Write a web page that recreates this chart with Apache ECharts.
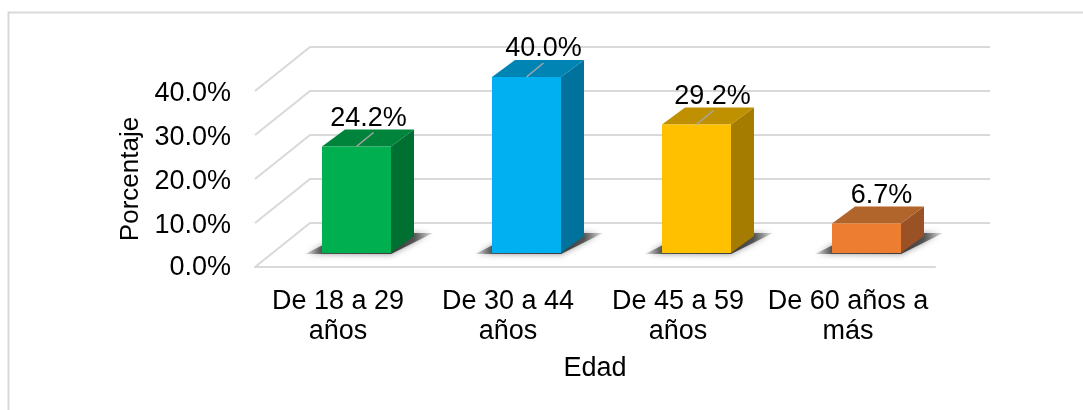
<!DOCTYPE html>
<html>
<head>
<meta charset="utf-8">
<script src="https://cdn.jsdelivr.net/npm/echarts@6/dist/echarts.min.js"></script>
<style>
  html, body { margin: 0; padding: 0; background: #fff; }
  #chart { width: 1083px; height: 410px; }
</style>
</head>
<body>
<div id="chart"></div>
<script>
var categories = ['De 18 a 29\naños', 'De 30 a 44\naños', 'De 45 a 59\naños', 'De 60 años a\nmás'];
var percentages = [24.2, 40.0, 29.2, 6.7];
var yTicks = [0, 10, 20, 30, 40];

var frontColors = ['#00B050', '#00B0F0', '#FFC000', '#ED7D31'];
var topColors = ['#00843C', '#0084B4', '#BF9000', '#B2652B'];
var sideColors = ['#006F32', '#00729C', '#A67C00', '#9A5126'];

var FONT = '"Liberation Sans", Arial, sans-serif';
var FONT_SIZE = 27;
var TEXT = '#000';
var GRID_LINE = '#d9d9d9';

// the 3d look: wall sits behind the floor front edge, bars stand part way in
var wallDx = 55, wallDy = -44;
var barDx = 16.5, barDy = -14;
var depthDx = 23, depthDy = -17;
var barW = 69;
var labelDx = [12, 17, 16, 15];

function drawWall(params, api) {
  var p = api.coord([0, api.value(1)]);
  var left = params.coordSys.x;
  var right = left + params.coordSys.width;
  return {
    type: 'polyline',
    shape: { points: [[left, p[1]], [left + wallDx, p[1] + wallDy], [right + wallDx, p[1] + wallDy]] },
    style: { stroke: GRID_LINE, lineWidth: 2, fill: null }
  };
}

function drawBar(params, api) {
  var i = params.dataIndex;
  var value = api.value(1);
  var base = api.coord([i, 0]);
  var head = api.coord([i, value]);
  var x0 = base[0] + barDx - barW / 2;
  var x1 = x0 + barW;
  var y0 = base[1] + barDy;
  var y1 = head[1] + barDy;
  var midX = (x0 + x1) / 2;
  var kids = [
    {
      // floor shadow, dark next to the bar and fading outwards
      type: 'polygon',
      shape: { points: [[x0 - 17, y0 + 1], [x1, y0 + 1], [x1 + 42, y0 - 20], [x0 + 25, y0 - 20]] },
      style: {
        fill: new echarts.graphic.LinearGradient(0, 0, 1, 0, [
          { offset: 0, color: 'rgba(60,60,60,0.1)' },
          { offset: 0.14, color: 'rgba(60,60,60,0.85)' },
          { offset: 0.68, color: 'rgba(60,60,60,1)' },
          { offset: 0.85, color: 'rgba(60,60,60,0.8)' },
          { offset: 1, color: 'rgba(60,60,60,0.1)' }
        ]),
        shadowBlur: 6,
        shadowColor: 'rgba(60,60,60,0.6)'
      }
    },
    {
      type: 'polygon',
      shape: { points: [[x1, y1], [x1 + depthDx, y1 + depthDy], [x1 + depthDx, y0 + depthDy], [x1, y0]] },
      style: { fill: sideColors[i] }
    },
    {
      type: 'polygon',
      shape: { points: [[x0, y1], [x0 + depthDx, y1 + depthDy], [x1 + depthDx, y1 + depthDy], [x1, y1]] },
      style: { fill: topColors[i] }
    },
    {
      type: 'rect',
      shape: { x: x0, y: y1, width: barW, height: y0 - y1 },
      style: { fill: frontColors[i] }
    }
  ];
  // small bar keeps its label right above, the others get a leader line
  if (value > 10) {
    kids.push({
      type: 'line',
      shape: { x1: midX, y1: y1, x2: midX + 17, y2: y1 + depthDy + 3 },
      style: { stroke: '#a6a6a6', lineWidth: 1.5 }
    });
  }
  kids.push({
    type: 'text',
    style: {
      text: value.toFixed(1) + '%',
      x: midX + labelDx[i],
      y: y1 - 28,
      align: 'center',
      verticalAlign: 'middle',
      fill: TEXT,
      font: FONT_SIZE + 'px ' + FONT
    }
  });
  return { type: 'group', children: kids };
}

var chart = echarts.init(document.getElementById('chart'));
chart.setOption({
  animation: false,
  backgroundColor: '#fff',
  textStyle: { fontFamily: FONT },
  graphic: [{
    // frame of the pasted picture: only top and left edges are visible
    type: 'polyline',
    z: 0,
    shape: { points: [[8.5, 410], [8.5, 12.5], [1083, 12.5]] },
    style: { fill: null, stroke: GRID_LINE, lineWidth: 2 }
  }],
  grid: { left: 255, top: 91, width: 680, height: 176, containLabel: false },
  xAxis: {
    type: 'category',
    data: categories,
    name: 'Edad',
    nameLocation: 'middle',
    nameGap: 88,
    nameTextStyle: { fontSize: FONT_SIZE, color: TEXT, fontFamily: FONT },
    axisLine: { show: true, lineStyle: { color: GRID_LINE, width: 2 } },
    axisTick: { show: false },
    axisLabel: { fontSize: FONT_SIZE, color: TEXT, fontFamily: FONT, margin: 20, lineHeight: 30, interval: 0, padding: [0, 4, 0, 0] }
  },
  yAxis: {
    type: 'value',
    min: 0,
    max: 40,
    interval: 10,
    name: 'Porcentaje',
    nameLocation: 'middle',
    nameGap: 106,
    nameTextStyle: { fontSize: 26, color: TEXT, fontFamily: FONT },
    axisLine: { show: false },
    axisTick: { show: false },
    splitLine: { show: false },
    axisLabel: {
      margin: 24,
      // top padding on the rich token pushes the text down a little, 0.0% sits higher
      rich: {
        v: { fontSize: FONT_SIZE, color: TEXT, fontFamily: FONT, padding: [5, 0, 0, 0] },
        z: { fontSize: FONT_SIZE, color: TEXT, fontFamily: FONT, padding: [1, 0, 0, 0] }
      },
      formatter: function (v) { return '{' + (v === 0 ? 'z' : 'v') + '|' + v.toFixed(1) + '%}'; }
    }
  },
  series: [
    {
      type: 'custom',
      name: 'wall',
      clip: false,
      z: 1,
      silent: true,
      renderItem: drawWall,
      encode: { x: 0, y: 1 },
      data: yTicks.map(function (t) { return [0, t]; })
    },
    {
      type: 'custom',
      name: 'Porcentaje',
      clip: false,
      z: 2,
      renderItem: drawBar,
      encode: { x: 0, y: 1 },
      data: percentages.map(function (v, i) { return [i, v]; })
    }
  ]
});
</script>
</body>
</html>
